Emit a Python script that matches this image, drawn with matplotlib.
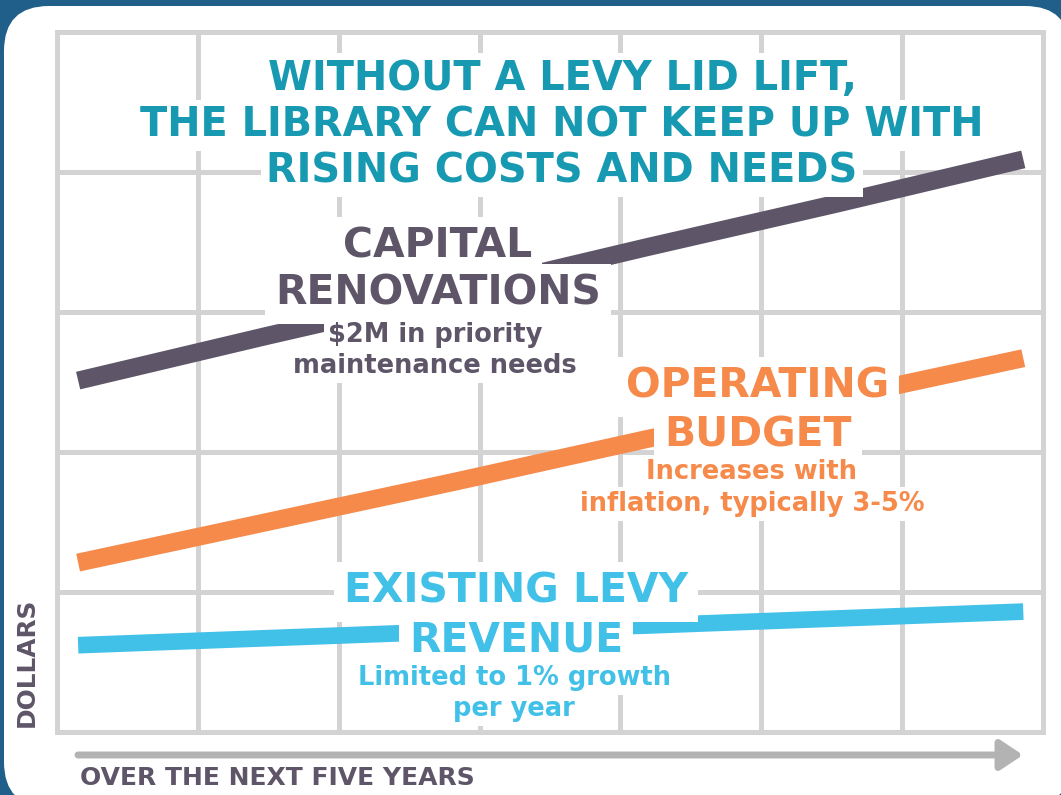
import matplotlib
matplotlib.use('Agg')
import matplotlib.pyplot as plt
from matplotlib.patches import FancyBboxPatch
import numpy as np

# figure is 1061x795 px
W, H = 1061, 795
dpi = 100

years = [0, 1, 2, 3, 4, 5]
# values, in grid units (one grid row = 1)
capital = [2.51, 2.83, 3.14, 3.46, 3.77, 4.09]
operating = [1.21, 1.50, 1.79, 2.09, 2.38, 2.67]
levy = [0.62, 0.67, 0.72, 0.76, 0.81, 0.86]

title_lines = ['WITHOUT A LEVY LID LIFT,', 'THE LIBRARY CAN NOT KEEP UP WITH', 'RISING COSTS AND NEEDS']
capital_label = ['CAPITAL', 'RENOVATIONS']
capital_note = ['$2M in priority', 'maintenance needs']
operating_label = ['OPERATING', 'BUDGET']
operating_note = ['Increases with', 'inflation, typically 3-5%']
levy_label = ['EXISTING LEVY', 'REVENUE']
levy_note = ['Limited to 1% growth', 'per year']

bg_blue = '#1f5f8a'
grid_gray = '#d3d3d3'
purple = '#5e5668'
orange = '#f58a4b'
cyan = '#41c0e8'
teal = '#1899b2'

plt.rcParams['font.family'] = 'DejaVu Sans'


def px(x, y):
	#pixel from top-left -> figure fraction
	return x / W, 1 - y / H


#each line gets its own white box, centred on (x, y) in pixels from top-left
def put_lines(fig, lines, x, ys, size, color, pad=3):
	cap = 0.73 * size * dpi / 72
	for txt, y in zip(lines, ys):
		fig.text(*px(x, y + cap / 2), txt, ha='center', va='baseline', fontsize=size,
				fontweight='bold', color=color, zorder=5,
				bbox=dict(facecolor='white', edgecolor='none', pad=pad))


fig = plt.figure(figsize=(W/dpi, H/dpi), dpi=dpi)
fig.patch.set_facecolor(bg_blue)

#white rounded card, kept under the axes; runs off the right and bottom edges
card = FancyBboxPatch((0.04, -0.12), 10.66, 8.01, boxstyle='round,pad=0,rounding_size=0.45',
					transform=fig.dpi_scale_trans, facecolor='white', edgecolor='none', zorder=-10)
fig.patches.append(card)

ax = fig.add_axes([57/W, 1 - 732/H, (1043-57)/W, (732-32)/H])
ax.set_facecolor('none')
#grid spans 7 columns, lines go from 0.15 to 6.86 columns
col_per_year = (6.86 - 0.15) / 5
x0 = -0.15 / col_per_year
x1 = 5 + (7 - 6.86) / col_per_year
ax.set_xlim(x0, x1)
ax.set_ylim(0, 5)
ax.set_xticks(np.linspace(x0, x1, 8))
ax.set_yticks(range(6))
ax.tick_params(length=0, labelbottom=False, labelleft=False)
ax.grid(True, color=grid_gray, lw=3.6, zorder=0)
ax.set_axisbelow(True)
for sp in ax.spines.values():
	sp.set_color(grid_gray)
	sp.set_linewidth(3.6)

ax.plot(years, capital, color=purple, lw=13, solid_capstyle='butt', zorder=2)
ax.plot(years, operating, color=orange, lw=13, solid_capstyle='butt', zorder=2)
ax.plot(years, levy, color=cyan, lw=12, solid_capstyle='butt', zorder=2)

put_lines(fig, title_lines, 562, [75, 122, 168], 28.7, teal, pad=4)

put_lines(fig, capital_label, 438, [243, 290], 29.4, purple, pad=7)
put_lines(fig, capital_note, 435, [333, 364], 18.5, purple, pad=3)

put_lines(fig, operating_label, 758, [383, 432], 29.4, orange, pad=7)
put_lines(fig, operating_note, 752, [470, 502], 18.5, orange, pad=3)

put_lines(fig, levy_label, 516, [588, 637], 29.4, cyan, pad=7)
put_lines(fig, levy_note, 514, [676, 707], 18.5, cyan, pad=3)

fig.text(*px(27, 662), 'DOLLARS', ha='center', va='center', rotation=90, fontsize=17.9,
		fontweight='bold', color=purple)
fig.text(*px(80, 778), 'OVER THE NEXT FIVE YEARS', ha='left', va='center', fontsize=18,
		fontweight='bold', color=purple)

#time arrow under the grid
ax.annotate('', xy=(1023, H - 755), xytext=(78, H - 755), xycoords='figure pixels',
			textcoords='figure pixels', annotation_clip=False,
			arrowprops=dict(arrowstyle='-|>,head_length=0.45,head_width=0.3', lw=5,
							color='#b3b3b3', shrinkA=0, shrinkB=0, mutation_scale=30))

fig.savefig('out.png', dpi=dpi, facecolor=fig.get_facecolor())
